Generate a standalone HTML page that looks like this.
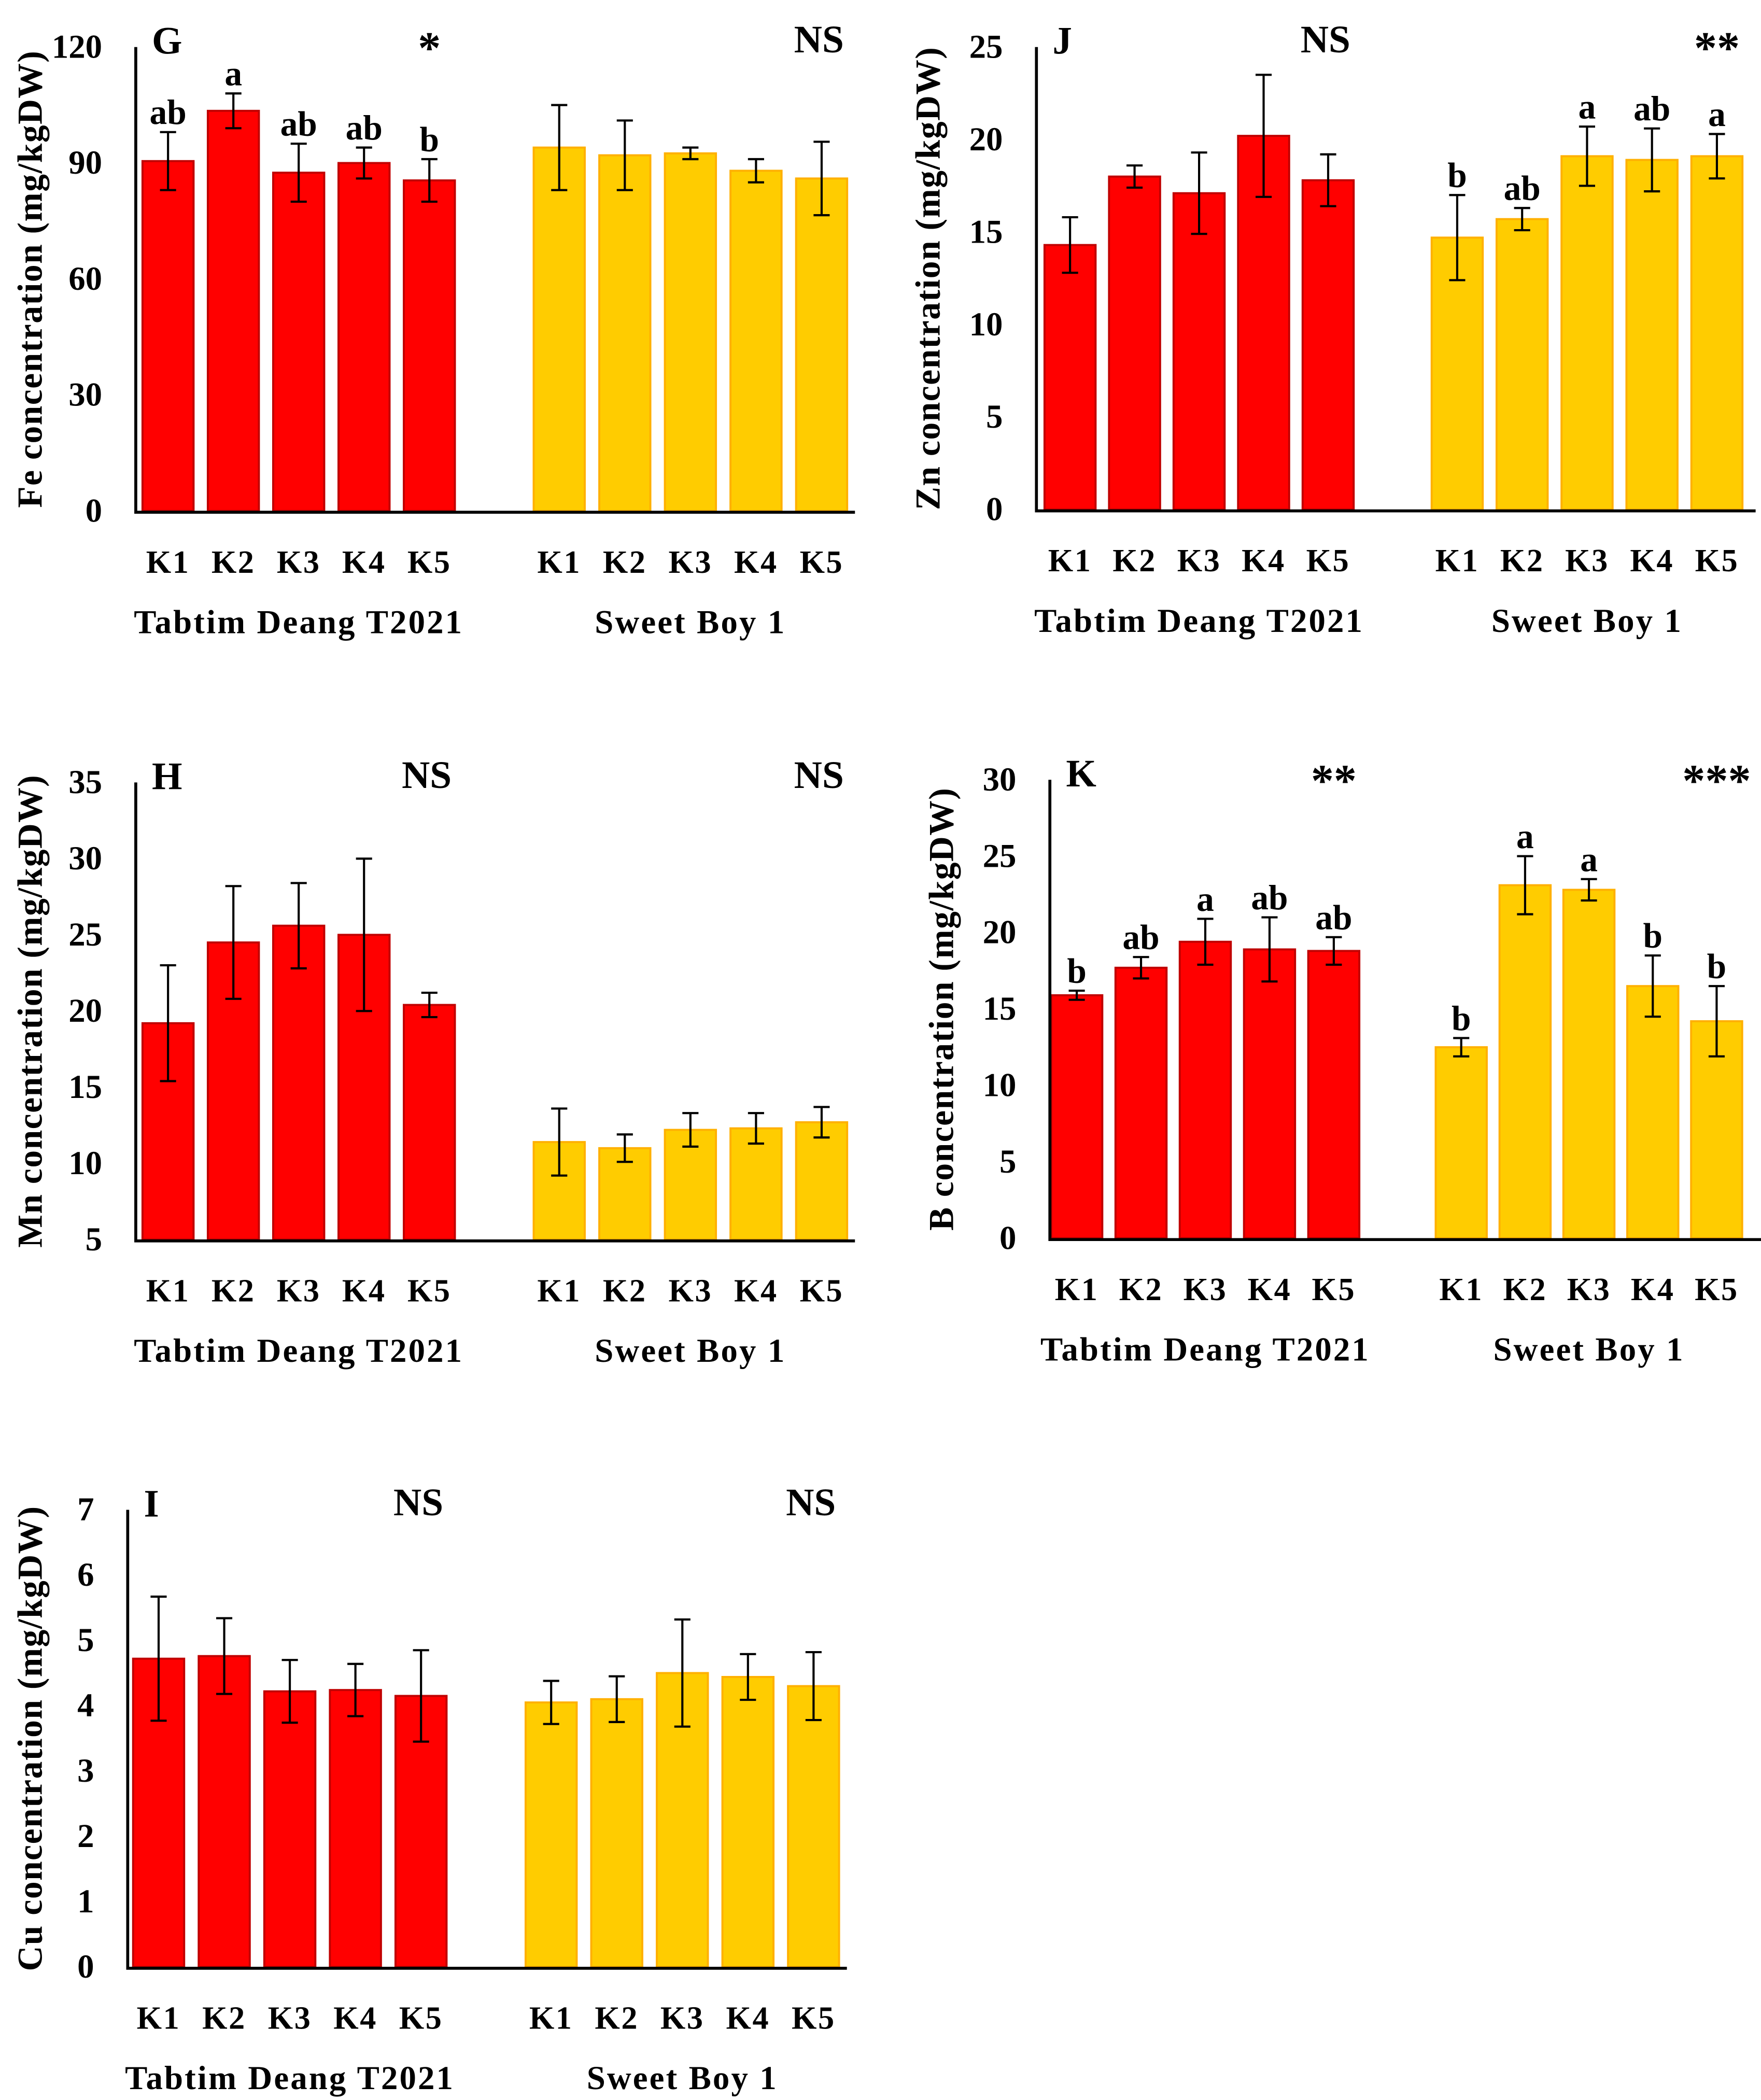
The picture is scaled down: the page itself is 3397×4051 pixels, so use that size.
<!DOCTYPE html>
<html><head><meta charset="utf-8"><style>
html,body{margin:0;padding:0;background:#fff}
svg{display:block}
text{font-family:"Liberation Serif",serif;font-weight:bold;fill:#000}
</style></head><body>
<svg id="chart" width="3397" height="4051" viewBox="0 0 1310 1562" preserveAspectRatio="none" xmlns="http://www.w3.org/2000/svg"></svg>
<script>
const categories = ["K1","K2","K3","K4","K5"];
const groups = ["Tabtim Deang T2021","Sweet Boy 1"];

const feRed = [90.5,103.5,87.5,90,85.5];
const feRedErr = [7.5,4.5,7.5,4,5.5];
const feYel = [94,92,92.5,88,86];
const feYelErr = [11,9,1.5,3,9.5];
const feTicks = [0,30,60,90,120];
const feLettersRed = ["ab","a","ab","ab","b"];
const feLettersYel = ["","","","",""];
const feSig = ["*","NS"];

const znRed = [14.3,18,17.1,20.2,17.8];
const znRedErr = [1.5,0.6,2.2,3.3,1.4];
const znYel = [14.7,15.7,19.1,18.9,19.1];
const znYelErr = [2.3,0.6,1.6,1.7,1.2];
const znTicks = [0,5,10,15,20,25];
const znLettersRed = ["","","","",""];
const znLettersYel = ["b","ab","a","ab","a"];
const znSig = ["NS","**"];

const mnRed = [19.2,24.5,25.6,25,20.4];
const mnRedErr = [3.8,3.7,2.8,5,0.8];
const mnYel = [11.4,11,12.2,12.3,12.7];
const mnYelErr = [2.2,0.9,1.1,1,1];
const mnTicks = [5,10,15,20,25,30,35];
const mnLettersRed = ["","","","",""];
const mnLettersYel = ["","","","",""];
const mnSig = ["NS","NS"];

const bRed = [15.9,17.7,19.4,18.9,18.8];
const bRedErr = [0.3,0.7,1.5,2.1,0.9];
const bYel = [12.5,23.1,22.8,16.5,14.2];
const bYelErr = [0.6,1.9,0.7,2,2.3];
const bTicks = [0,5,10,15,20,25,30];
const bLettersRed = ["b","ab","a","ab","ab"];
const bLettersYel = ["b","a","a","b","b"];
const bSig = ["**","***"];

const cuRed = [4.72,4.76,4.22,4.24,4.15];
const cuRedErr = [0.95,0.58,0.48,0.4,0.7];
const cuYel = [4.05,4.1,4.5,4.44,4.3];
const cuYelErr = [0.33,0.35,0.82,0.35,0.52];
const cuTicks = [0,1,2,3,4,5,6,7];
const cuLettersRed = ["","","","",""];
const cuLettersYel = ["","","","",""];
const cuSig = ["NS","NS"];

const svg = document.getElementById('chart');
const NS = "http://www.w3.org/2000/svg";
function mk(tag, attrs, parent){const e=document.createElementNS(NS,tag);for(const k in attrs)e.setAttribute(k,attrs[k]);(parent||svg).appendChild(e);return e;}
function txt(s, attrs, parent){const e=mk('text',attrs,parent);e.textContent=s;return e;}

function panel(p){
  const g = mk('g',{});
  
  
  const min=p.ticks[0], max=p.ticks[p.ticks.length-1];
  const y = v => p.y0 + (v-min)/(max-min)*(p.y1-p.y0);
  const x = (gi,ci) => p.x0[gi] + ci*p.step[gi];
  const bw = 38;
  [[p.red,p.redErr,p.lr,'#ff0000','#c00000'],[p.yel,p.yelErr,p.ly,'#ffcc00','#ffb000']].forEach((s,gi)=>{
    s[0].forEach((v,ci)=>{
      const cx=x(gi,ci);
      const r=mk('rect',{x:cx-bw/2,y:y(v),width:bw,height:y(min)-y(v),fill:s[3],stroke:s[4],'stroke-width':1.5},g);
      
      
      const e=s[1][ci];
      const eb=mk('path',{d:`M${cx},${y(v+e)}V${y(v-e)}M${cx-6},${y(v+e)}H${cx+6}M${cx-6},${y(v-e)}H${cx+6}`,stroke:'#000','stroke-width':1.6,fill:'none'},g);
      
      
      if(s[2][ci]){
        const t=txt(s[2][ci],{x:cx,y:y(v+e)-6,'text-anchor':'middle','font-size':26},g);
        
        
      }
      const c=txt(categories[ci],{x:cx,y:p.y0+46,'text-anchor':'middle','font-size':24,'letter-spacing':1},g);
      
      
    });
    const gx=(x(gi,0)+x(gi,4))/2;
    const gl=txt(groups[gi],{x:gx,y:p.y0+91,'text-anchor':'middle','font-size':25,'letter-spacing':1.2},g);
    
    
    const star=p.sig[gi].indexOf('*')>=0;
    const sg=txt(p.sig[gi],{x:x(gi,4)+(star?0:-2),y:star?p.y1+12:p.y1+4,'text-anchor':'middle','font-size':star?34:29},g);
    
    
  });
  const ax=mk('path',{d:`M${p.ax},${p.y1}V${p.y0+1}H${p.ax+535}`,stroke:'#000','stroke-width':2.2,fill:'none'},g);
  
  
  p.ticks.forEach(t=>{
    const tl=txt(t,{x:p.ax-25,y:y(t)+8,'text-anchor':'end','font-size':25},g);
    
    
  });
  const yc=(p.y0+p.y1)/2;
  const yt=txt(p.title,{x:0,y:0,'text-anchor':'middle','font-size':26,'letter-spacing':0.6,transform:`translate(${p.tx},${yc}) rotate(-90)`},g);
  
  
  const pl=txt(p.id,{x:p.ax+12,y:p.y1+5,'font-size':29},g);
  
  
}

panel({id:'G',red:feRed,redErr:feRedErr,yel:feYel,yelErr:feYelErr,ticks:feTicks,lr:feLettersRed,ly:feLettersYel,sig:feSig,
  ax:101,y0:380,y1:35,x0:[125,416],step:[48.6,48.8],title:'Fe concentration (mg/kgDW)',tx:31});
panel({id:'J',red:znRed,redErr:znRedErr,yel:znYel,yelErr:znYelErr,ticks:znTicks,lr:znLettersRed,ly:znLettersYel,sig:znSig,
  ax:771,y0:379,y1:35,x0:[796,1084],step:[48,48.3],title:'Zn concentration (mg/kgDW)',tx:699});
panel({id:'H',red:mnRed,redErr:mnRedErr,yel:mnYel,yelErr:mnYelErr,ticks:mnTicks,lr:mnLettersRed,ly:mnLettersYel,sig:mnSig,
  ax:101,y0:922,y1:582,x0:[125,416],step:[48.6,48.8],title:'Mn concentration (mg/kgDW)',tx:31});
panel({id:'K',red:bRed,redErr:bRedErr,yel:bYel,yelErr:bYelErr,ticks:bTicks,lr:bLettersRed,ly:bLettersYel,sig:bSig,
  ax:781,y0:921,y1:580,x0:[801,1087],step:[47.8,47.5],title:'B concentration (mg/kgDW)',tx:709});
panel({id:'I',red:cuRed,redErr:cuRedErr,yel:cuYel,yelErr:cuYelErr,ticks:cuTicks,lr:cuLettersRed,ly:cuLettersYel,sig:cuSig,
  ax:95,y0:1463,y1:1123,x0:[118,410],step:[48.8,48.8],title:'Cu concentration (mg/kgDW)',tx:31});
</script>
</body></html>
